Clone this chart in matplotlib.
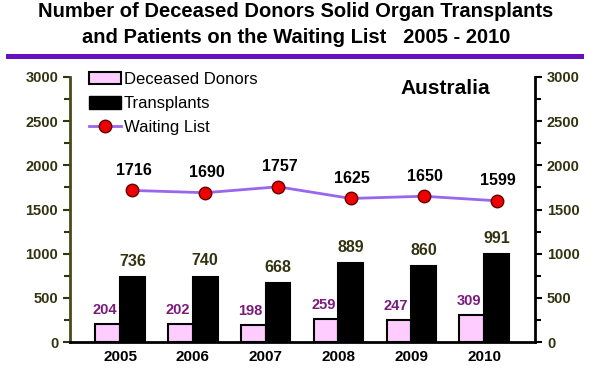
import matplotlib
matplotlib.use("Agg")
from matplotlib import pyplot as plt
from matplotlib.ticker import MultipleLocator
from matplotlib.lines import Line2D
import numpy as np

plt.rcParams['font.family'] = ['Liberation Sans', 'DejaVu Sans']

# 数据
years = ['2005', '2006', '2007', '2008', '2009', '2010']
donors = [204, 202, 198, 259, 247, 309]
transplants = [736, 740, 668, 889, 860, 991]
waiting = [1716, 1690, 1757, 1625, 1650, 1599]

olive = '#333311'
pink = '#ffccff'
lav = '#9966ee'
purple_txt = '#7a1a7a'

fig = plt.figure(figsize=(6.08, 3.83), dpi=100)
ax = fig.add_axes([0.1151, 0.107, 0.765, 0.692])
x = np.arange(len(years))
w = 0.34

ax.bar(x - w / 2, donors, w, color=pink, edgecolor='black', linewidth=1.5, zorder=2)
ax.bar(x + w / 2, transplants, w, color='black', edgecolor='black', linewidth=1.5, zorder=2)
# 折线画在黑色柱子的中心
ax.plot(x + w / 2, waiting, color=lav, linewidth=2, marker='o', markersize=9,
        markerfacecolor='#ee0000', markeredgecolor='#660000', markeredgewidth=1, zorder=3)

# 数值标签
for i in range(len(years)):
    ax.annotate(str(donors[i]), (x[i] - w / 2, donors[i]), xytext=(-2, 5),
                textcoords='offset points', ha='center', va='bottom',
                fontsize=10.5, fontweight='bold', color=purple_txt)
    ax.annotate(str(transplants[i]), (x[i] + w / 2, transplants[i]), xytext=(0, 6),
                textcoords='offset points', ha='center', va='bottom',
                fontsize=11.5, fontweight='bold', color=olive)
    ax.annotate(str(waiting[i]), (x[i] + w / 2, waiting[i]), xytext=(1, 9),
                textcoords='offset points', ha='center', va='bottom',
                fontsize=11.5, fontweight='bold', color='black')

ax.set_xlim(-0.687, 5.70)
ax.set_ylim(0, 3000)
ax.set_xticks(x)
ax.set_xticklabels(years, fontsize=11, fontweight='bold')
ax.tick_params(axis='x', length=0, pad=6)
ax.yaxis.set_major_locator(MultipleLocator(500))
ax.yaxis.set_minor_locator(MultipleLocator(250))
ax.tick_params(axis='y', which='both', direction='out', colors=olive, labelsize=10.5, width=1.5)
ax.tick_params(axis='y', which='major', length=5)
ax.tick_params(axis='y', which='minor', length=4)
for lab in ax.get_yticklabels():
    lab.set_fontweight('bold')
ax.spines['top'].set_visible(False)
ax.spines['right'].set_visible(False)
ax.spines['left'].set_color('#4a4a1a')
ax.spines['left'].set_linewidth(2)
ax.spines['bottom'].set_linewidth(2)

ax2 = ax.twinx()
ax2.set_ylim(0, 3000)
ax2.yaxis.set_major_locator(MultipleLocator(500))
ax2.yaxis.set_minor_locator(MultipleLocator(250))
ax2.tick_params(axis='y', which='both', direction='out', labelcolor=olive, color='black',
                labelsize=10.5, width=1.5)
ax2.tick_params(axis='y', which='major', length=5)
ax2.tick_params(axis='y', which='minor', length=4)
for lab in ax2.get_yticklabels():
    lab.set_fontweight('bold')
for s in ['top', 'left', 'bottom']:
    ax2.spines[s].set_visible(False)
ax2.spines['right'].set_linewidth(2)

# 图例
handles = [plt.Rectangle((0, 0), 1, 1, facecolor=pink, edgecolor='black', linewidth=1.5),
           plt.Rectangle((0, 0), 1, 1, facecolor='black', edgecolor='black'),
           Line2D([0], [0], color=lav, linewidth=2, marker='o', markersize=9,
                  markerfacecolor='#ee0000', markeredgecolor='#660000')]
leg = ax.legend(handles, ['Deceased Donors', 'Transplants', 'Waiting List'],
                loc='upper left', bbox_to_anchor=(0.135, 0.83), bbox_transform=fig.transFigure,
                frameon=False, fontsize=12, handlelength=1.92, handleheight=0.78,
                handletextpad=0.2, labelspacing=0.55, borderaxespad=0)

fig.text(0.732, 0.77, 'Australia', fontsize=15, fontweight='bold', ha='center', va='center')

# 标题
fig.text(0.487, 0.9556, 'Number of Deceased Donors Solid Organ Transplants',
         fontsize=14.5, fontweight='bold', ha='center', va='baseline')
fig.text(0.487, 0.8877, 'and Patients on the Waiting List   2005 - 2010',
         fontsize=14.5, fontweight='bold', ha='center', va='baseline')
fig.add_artist(Line2D([0.013, 0.955], [0.855, 0.855], color='#6611bb', linewidth=3.6,
                      transform=fig.transFigure))

fig.savefig('out.png', dpi=100)
